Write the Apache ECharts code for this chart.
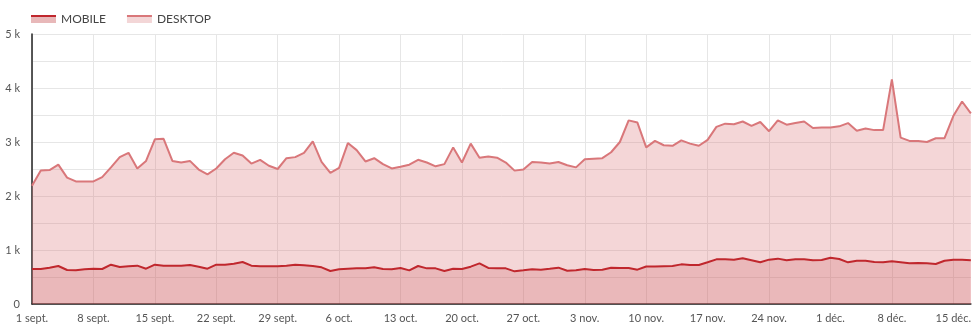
<!DOCTYPE html>
<html>
<head>
<meta charset="utf-8">
<script src="https://cdn.jsdelivr.net/npm/echarts@6/dist/echarts.min.js"></script>
<style>html,body{margin:0;padding:0;background:#fff;}#c{width:974px;height:328px;}</style>
</head>
<body>
<div id="c"></div>
<script>
const categories = [
'1 sept.','2 sept.','3 sept.','4 sept.','5 sept.','6 sept.','7 sept.','8 sept.','9 sept.','10 sept.',
'11 sept.','12 sept.','13 sept.','14 sept.','15 sept.','16 sept.','17 sept.','18 sept.','19 sept.','20 sept.',
'21 sept.','22 sept.','23 sept.','24 sept.','25 sept.','26 sept.','27 sept.','28 sept.','29 sept.','30 sept.',
'1 oct.','2 oct.','3 oct.','4 oct.','5 oct.','6 oct.','7 oct.','8 oct.','9 oct.','10 oct.',
'11 oct.','12 oct.','13 oct.','14 oct.','15 oct.','16 oct.','17 oct.','18 oct.','19 oct.','20 oct.',
'21 oct.','22 oct.','23 oct.','24 oct.','25 oct.','26 oct.','27 oct.','28 oct.','29 oct.','30 oct.','31 oct.',
'1 nov.','2 nov.','3 nov.','4 nov.','5 nov.','6 nov.','7 nov.','8 nov.','9 nov.','10 nov.',
'11 nov.','12 nov.','13 nov.','14 nov.','15 nov.','16 nov.','17 nov.','18 nov.','19 nov.','20 nov.',
'21 nov.','22 nov.','23 nov.','24 nov.','25 nov.','26 nov.','27 nov.','28 nov.','29 nov.','30 nov.',
'1 déc.','2 déc.','3 déc.','4 déc.','5 déc.','6 déc.','7 déc.','8 déc.','9 déc.','10 déc.',
'11 déc.','12 déc.','13 déc.','14 déc.','15 déc.','16 déc.','17 déc.'
];
const mobile = [
648,648,673,704,630,623,642,654,648,728,
685,698,710,654,728,710,710,710,722,691,
654,728,728,747,778,710,698,698,698,710,
728,716,704,679,611,642,654,660,660,679,
648,642,667,623,704,660,660,611,654,648,
691,753,667,660,660,605,623,642,636,654,
673,617,623,648,630,636,673,667,667,636,
695,695,700,704,734,722,722,772,827,827,
821,846,809,772,821,840,809,827,827,809,
815,858,833,772,802,802,778,772,790,772,
753,760,753,740,802,821,821,809
];
const desktop = [
2190,2470,2480,2580,2340,2270,2270,2270,2350,2530,
2720,2800,2510,2650,3050,3060,2650,2620,2650,2490,
2400,2510,2680,2800,2750,2600,2670,2560,2500,2700,
2720,2800,3010,2630,2430,2520,2980,2850,2640,2700,
2590,2510,2540,2580,2670,2620,2550,2590,2900,2620,
2970,2710,2730,2710,2620,2470,2490,2630,2620,2600,
2630,2570,2530,2680,2690,2700,2810,3000,3400,3360,
2900,3020,2940,2930,3030,2970,2930,3040,3280,3340,
3330,3380,3300,3370,3200,3400,3320,3350,3380,3260,
3270,3270,3290,3350,3210,3250,3220,3220,4160,3080,
3020,3020,3000,3070,3070,3480,3750,3530
];
const seriesNames = ['MOBILE','DESKTOP'];

const FONT = 'Lato';
const mobileLine = '#c0272d', mobileFill = 'rgba(192,39,45,0.17)';
const desktopLine = '#d9777a', desktopFill = 'rgba(217,119,122,0.3)';
function legendGrad(line, fill){
  return {type:'linear',x:0,y:0,x2:0,y2:1,colorStops:[
    {offset:0,color:line},{offset:0.3,color:line},{offset:0.3,color:fill},{offset:1,color:fill}]};
}
const chart = echarts.init(document.getElementById('c'), null, {renderer:'canvas'});
chart.setOption({
  animation:false,
  textStyle:{fontFamily:FONT},
  legend:{
    data:seriesNames, left:26, top:8, itemWidth:25, itemHeight:8, itemGap:21, icon:'rect',
    textStyle:{fontFamily:FONT, fontSize:12, color:'#444'}
  },
  grid:{left:32, right:2, top:34, bottom:24, containLabel:false},
  xAxis:{
    type:'category', data:categories, boundaryGap:false,
    axisLine:{show:true, lineStyle:{color:'#222', width:1.5}},
    axisTick:{show:false},
    axisLabel:{interval:6, color:'#555', fontSize:11, fontFamily:FONT, margin:9},
    splitLine:{show:true, interval:6, lineStyle:{color:'#e6e6e6', width:1}}
  },
  yAxis:{
    type:'value', min:0, max:5000, interval:500,
    axisLine:{show:true, lineStyle:{color:'#222', width:1.5}},
    axisTick:{show:false},
    axisLabel:{color:'#555', fontSize:11, fontFamily:FONT, margin:12,
      formatter:function(v){ if(v===0) return '0'; return v%1000===0 ? (v/1000)+' k' : ''; }},
    splitLine:{show:true, lineStyle:{color:'#e6e6e6', width:1}}
  },
  series:[
    {name:'DESKTOP', type:'line', data:desktop, showSymbol:false, symbol:'none', z:2,
      lineStyle:{color:desktopLine, width:2}, itemStyle:{color:legendGrad(desktopLine,'#f3d6d7')},
      areaStyle:{color:desktopFill, opacity:1}},
    {name:'MOBILE', type:'line', data:mobile, showSymbol:false, symbol:'none', z:3,
      lineStyle:{color:mobileLine, width:2}, itemStyle:{color:legendGrad(mobileLine,'#e8b8b9')},
      areaStyle:{color:mobileFill, opacity:1}}
  ]
});
</script>
</body>
</html>
